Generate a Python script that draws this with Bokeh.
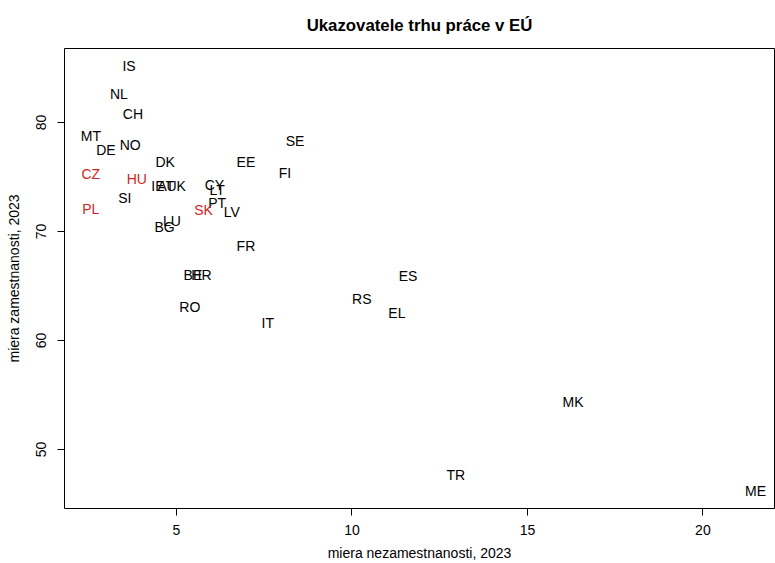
from bokeh.plotting import figure
from bokeh.models import ColumnDataSource, Range1d, FixedTicker
from bokeh.core.properties import value
from bokeh.embed import file_html
from bokeh.resources import INLINE

# --- data ---
countries = ["IS", "NL", "CH", "MT", "DE", "NO", "DK", "EE", "SE", "FI",
             "CZ", "HU", "IE", "AT", "UK", "CY", "LT", "PT", "LV", "SK",
             "PL", "SI", "LU", "BG", "FR", "BE", "HR", "RO", "IT", "ES",
             "RS", "EL", "MK", "TR", "ME"]
unemployment = [3.65, 3.36, 3.76, 2.56, 2.99, 3.68, 4.68, 6.98, 8.38, 8.09,
                2.56, 3.87, 4.47, 4.70, 4.99, 6.08, 6.16, 6.16, 6.58, 5.77,
                2.56, 3.53, 4.87, 4.66, 6.98, 5.47, 5.71, 5.38, 7.60, 11.60,
                10.28, 11.28, 16.30, 12.96, 21.50]
employment = [85.2, 82.6, 80.8, 78.8, 77.5, 77.9, 76.4, 76.4, 78.3, 75.4,
              75.3, 74.8, 74.2, 74.2, 74.2, 74.3, 73.8, 72.6, 71.8, 72.0,
              72.1, 73.1, 71.0, 70.4, 68.7, 66.0, 66.0, 63.1, 61.6, 65.9,
              63.8, 62.5, 54.4, 47.7, 46.2]
highlight = ["CZ", "HU", "PL", "SK"]
x_ticks = [5, 10, 15, 20]
y_ticks = [50, 60, 70, 80]

title_text = "Ukazovatele trhu práce v EÚ"
x_label = "miera nezamestnanosti, 2023"
y_label = "miera zamestnanosti, 2023"

colors = ["#cd2626" if c in highlight else "black" for c in countries]
src = ColumnDataSource(dict(x=unemployment, y=employment, label=countries, color=colors))

FONT = "Liberation Sans"

p = figure(frame_width=710, frame_height=460,
           min_border_left=64, min_border_right=1, min_border_top=48, min_border_bottom=55,
           x_range=Range1d(1.81, 22.04), y_range=Range1d(44.59, 86.79),
           output_backend="svg", toolbar_location=None,
           background_fill_color="white", border_fill_color="white")

p.title.text = title_text
p.title.text_font = FONT
p.title.text_font_size = "16.8px"
p.title.text_font_style = "bold"
p.title.align = "center"
p.title.vertical_align = "bottom"
p.title.text_color = "black"
p.title.standoff = 27

p.text(x="x", y="y", text="label", source=src, text_color="color",
       text_font=value(FONT), text_font_size="14px",
       text_align="center", text_baseline="middle")

p.grid.visible = False
p.outline_line_color = "black"
p.outline_line_alpha = 1.0
p.outline_line_width = 1

p.xaxis.ticker = FixedTicker(ticks=x_ticks)
p.yaxis.ticker = FixedTicker(ticks=y_ticks)
p.xaxis.axis_label = x_label
p.yaxis.axis_label = y_label

for ax in (p.xaxis[0], p.yaxis[0]):
    ax.axis_line_color = None
    ax.major_tick_line_color = "black"
    ax.major_tick_out = 7
    ax.major_tick_in = 0
    ax.minor_tick_line_color = None
    ax.major_label_text_font = FONT
    ax.major_label_text_font_size = "14px"
    ax.major_label_text_color = "black"
    ax.axis_label_text_font = FONT
    ax.axis_label_text_font_size = "14px"
    ax.axis_label_text_font_style = "normal"
    ax.axis_label_text_color = "black"

p.xaxis.major_label_standoff = 9
p.xaxis.axis_label_standoff = 7
p.yaxis.major_label_orientation = "vertical"
p.yaxis.major_label_standoff = 11
p.yaxis.axis_label_standoff = 12

open("out.html", "w").write(file_html(p, INLINE))
